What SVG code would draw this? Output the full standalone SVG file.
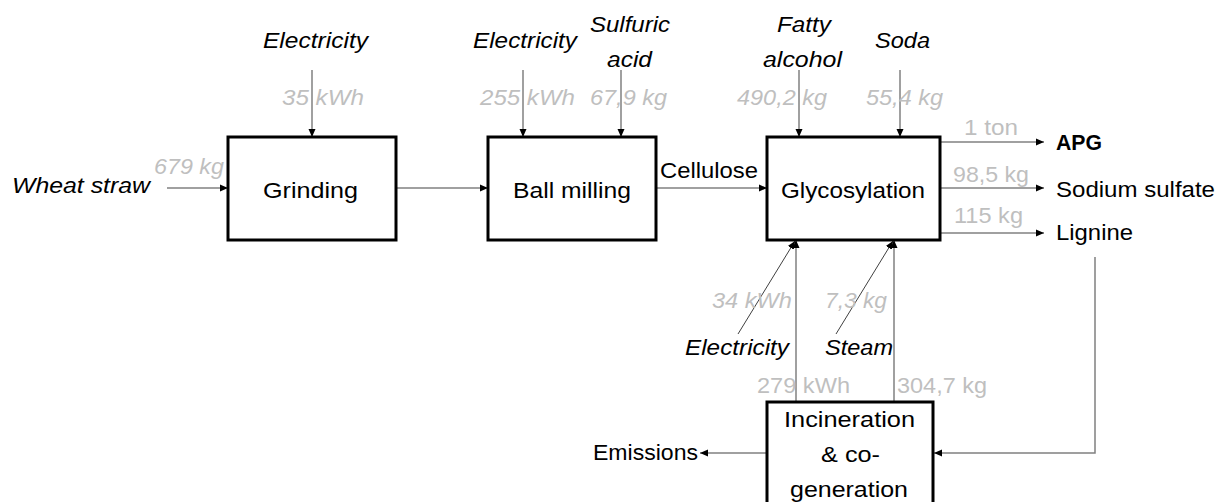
<svg xmlns="http://www.w3.org/2000/svg" width="1220" height="502" viewBox="0 0 1220 502">
<style>
.box{fill:#fff;stroke:#000;stroke-width:3}
.t{font-family:"Liberation Sans",Arial,sans-serif;font-size:22px;fill:#000}
.i{font-style:italic}
.g{fill:#bfbfbf}
.b{font-weight:bold}
.ln{fill:none;stroke:#808080;stroke-width:1.5}
.dk{fill:none;stroke:#404040;stroke-width:1}
</style>
<defs>
<marker id="ah" markerUnits="userSpaceOnUse" markerWidth="9" markerHeight="9" viewBox="0 0 9 9" refX="8" refY="4.5" orient="auto">
<path d="M0,1 L8,4.5 L0,8 Z" fill="#000"/>
</marker>
</defs>
<g id="connectors">
<line class="ln" x1="167" y1="188" x2="228" y2="188" marker-end="url(#ah)"/>
<line class="ln" x1="312" y1="70" x2="312" y2="137" marker-end="url(#ah)"/>
<line class="ln" x1="396" y1="188" x2="488" y2="188" marker-end="url(#ah)"/>
<line class="ln" x1="523" y1="70" x2="523" y2="137" marker-end="url(#ah)"/>
<line class="ln" x1="621" y1="70" x2="621" y2="137" marker-end="url(#ah)"/>
<line class="ln" x1="656" y1="188" x2="767" y2="188" marker-end="url(#ah)"/>
<line class="ln" x1="799" y1="70" x2="799" y2="137" marker-end="url(#ah)"/>
<line class="ln" x1="900" y1="70" x2="900" y2="137" marker-end="url(#ah)"/>
<line class="ln" x1="940" y1="142" x2="1044" y2="142" marker-end="url(#ah)"/>
<line class="ln" x1="940" y1="188" x2="1044" y2="188" marker-end="url(#ah)"/>
<line class="ln" x1="940" y1="233" x2="1044" y2="233" marker-end="url(#ah)"/>
<line class="ln" x1="796" y1="402" x2="796" y2="240" marker-end="url(#ah)"/>
<line class="ln" x1="894" y1="402" x2="894" y2="240" marker-end="url(#ah)"/>
<line class="dk" x1="738" y1="334" x2="795" y2="241" marker-end="url(#ah)"/>
<line class="dk" x1="836" y1="334" x2="893" y2="241" marker-end="url(#ah)"/>
<polyline class="ln" points="1095,257 1095,453 934,453" marker-end="url(#ah)"/>
<line class="ln" x1="767" y1="453" x2="700" y2="453" marker-end="url(#ah)"/>
</g>
<g id="grinding">
<rect class="box" x="228" y="137" width="168" height="103"/>
<text class="t" x="263" y="198" textLength="95" lengthAdjust="spacingAndGlyphs">Grinding</text>
</g>
<g id="ball-milling">
<rect class="box" x="488" y="137" width="168" height="103"/>
<text class="t" x="513" y="198" textLength="118" lengthAdjust="spacingAndGlyphs">Ball milling</text>
</g>
<g id="glycosylation">
<rect class="box" x="767" y="137" width="173" height="103"/>
<text class="t" x="781" y="198" textLength="144" lengthAdjust="spacingAndGlyphs">Glycosylation</text>
</g>
<g id="incineration">
<rect class="box" x="767" y="402" width="166" height="110"/>
<text class="t" x="784" y="427" textLength="131" lengthAdjust="spacingAndGlyphs">Incineration</text>
<text class="t" x="821" y="462" textLength="59" lengthAdjust="spacingAndGlyphs">&amp; co-</text>
<text class="t" x="790" y="497" textLength="118" lengthAdjust="spacingAndGlyphs">generation</text>
</g>
<g id="labels">
<text class="t i" x="12" y="193" textLength="138" lengthAdjust="spacingAndGlyphs">Wheat straw</text>
<text class="t i g" x="154" y="174" textLength="70" lengthAdjust="spacingAndGlyphs">679 kg</text>
<text class="t i" x="263" y="48" textLength="105" lengthAdjust="spacingAndGlyphs">Electricity</text>
<text class="t i g" x="282" y="105" textLength="82" lengthAdjust="spacingAndGlyphs">35 kWh</text>
<text class="t i" x="473" y="48" textLength="104" lengthAdjust="spacingAndGlyphs">Electricity</text>
<text class="t i g" x="480" y="105" textLength="95" lengthAdjust="spacingAndGlyphs">255 kWh</text>
<text class="t i" x="590" y="32" textLength="80" lengthAdjust="spacingAndGlyphs">Sulfuric</text>
<text class="t i" x="607" y="67" textLength="45" lengthAdjust="spacingAndGlyphs">acid</text>
<text class="t i g" x="590" y="105" textLength="77" lengthAdjust="spacingAndGlyphs">67,9 kg</text>
<text class="t" x="660" y="178" textLength="98" lengthAdjust="spacingAndGlyphs">Cellulose</text>
<text class="t i" x="777" y="32" textLength="54" lengthAdjust="spacingAndGlyphs">Fatty</text>
<text class="t i" x="763" y="67" textLength="79" lengthAdjust="spacingAndGlyphs">alcohol</text>
<text class="t i g" x="737" y="105" textLength="90" lengthAdjust="spacingAndGlyphs">490,2 kg</text>
<text class="t i" x="875" y="48" textLength="55" lengthAdjust="spacingAndGlyphs">Soda</text>
<text class="t i g" x="866" y="105" textLength="77" lengthAdjust="spacingAndGlyphs">55,4 kg</text>
<text class="t g" x="964" y="135" textLength="54" lengthAdjust="spacingAndGlyphs">1 ton</text>
<text class="t b" x="1056" y="150" textLength="46" lengthAdjust="spacingAndGlyphs">APG</text>
<text class="t g" x="953" y="182" textLength="76" lengthAdjust="spacingAndGlyphs">98,5 kg</text>
<text class="t" x="1056" y="197" textLength="159" lengthAdjust="spacingAndGlyphs">Sodium sulfate</text>
<text class="t g" x="954" y="223" textLength="69" lengthAdjust="spacingAndGlyphs">115 kg</text>
<text class="t" x="1056" y="240" textLength="77" lengthAdjust="spacingAndGlyphs">Lignine</text>
<text class="t i g" x="712" y="308" textLength="80" lengthAdjust="spacingAndGlyphs">34 kWh</text>
<text class="t i g" x="825" y="308" textLength="62" lengthAdjust="spacingAndGlyphs">7,3 kg</text>
<text class="t i" x="685" y="355" textLength="104" lengthAdjust="spacingAndGlyphs">Electricity</text>
<text class="t i" x="825" y="355" textLength="68" lengthAdjust="spacingAndGlyphs">Steam</text>
<text class="t g" x="757" y="393" textLength="93" lengthAdjust="spacingAndGlyphs">279 kWh</text>
<text class="t g" x="897" y="393" textLength="90" lengthAdjust="spacingAndGlyphs">304,7 kg</text>
<text class="t" x="593" y="460" textLength="105" lengthAdjust="spacingAndGlyphs">Emissions</text>
</g>
</svg>
